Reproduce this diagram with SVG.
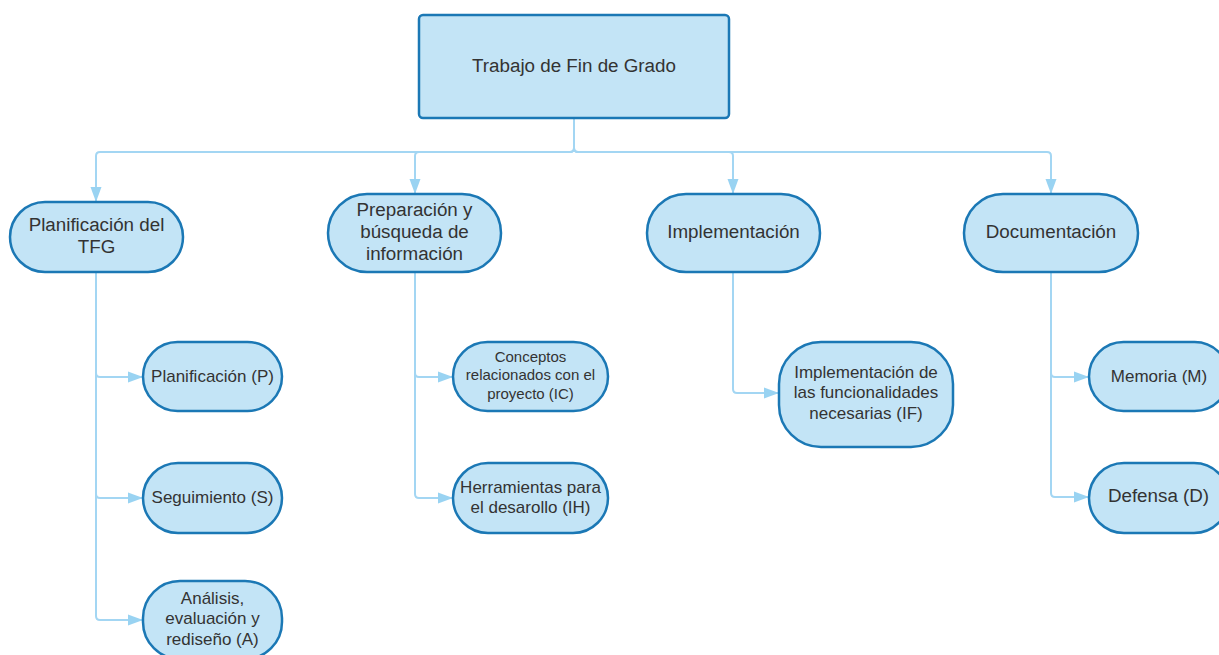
<svg xmlns="http://www.w3.org/2000/svg" width="1219" height="655" viewBox="0 0 1219 655">
<defs>
<marker id="arr" markerUnits="userSpaceOnUse" markerWidth="16" markerHeight="12" refX="15" refY="6" orient="auto">
<path d="M0,0.5 L15,6 L0,11.5 Z" fill="#99d3f2"/>
</marker>
<style>
.node{fill:#c3e4f6;stroke:#1b78b5;stroke-width:2.5}
.conn{fill:none;stroke:#a3d6f3;stroke-width:2;marker-end:url(#arr)}
text{font-family:"Liberation Sans",Arial,sans-serif;fill:#333333;text-anchor:middle;dominant-baseline:central}
.t1{font-size:18.8px}
.t2{font-size:17px}
.t3{font-size:15px}
</style>
</defs>
<rect width="1219" height="655" fill="#ffffff"/>
<g id="connectors">
<path class="conn" d="M574 118 V148 Q574 152 570 152 H100 Q96 152 96 156 V202"/>
<path class="conn" d="M574 118 V148 Q574 152 570 152 H419 Q415 152 415 156 V194"/>
<path class="conn" d="M574 118 V148 Q574 152 578 152 H729 Q733 152 733 156 V194"/>
<path class="conn" d="M574 118 V148 Q574 152 578 152 H1047 Q1051 152 1051 156 V194"/>
<path class="conn" d="M96 272 V373 Q96 377 100 377 H143"/>
<path class="conn" d="M96 272 V494 Q96 498 100 498 H143"/>
<path class="conn" d="M96 272 V616 Q96 620 100 620 H143"/>
<path class="conn" d="M415 272 V373 Q415 377 419 377 H453"/>
<path class="conn" d="M415 272 V494 Q415 498 419 498 H453"/>
<path class="conn" d="M733 272 V389 Q733 393 737 393 H779"/>
<path class="conn" d="M1051 272 V373 Q1051 377 1055 377 H1089"/>
<path class="conn" d="M1051 272 V493 Q1051 497 1055 497 H1089"/>
</g>
<g id="root">
<rect class="node" x="419" y="15" width="310" height="103" rx="4"/>
<text class="t1" x="574" y="65">Trabajo de Fin de Grado</text>
</g>
<g id="planificacion-tfg">
<rect class="node" x="10" y="202" width="173" height="70" rx="35"/>
<text class="t1" x="96.5" y="224">Planificación del</text>
<text class="t1" x="96.5" y="246">TFG</text>
</g>
<g id="preparacion">
<rect class="node" x="328" y="194" width="173" height="78" rx="39"/>
<text class="t1" x="414.5" y="209">Preparación y</text>
<text class="t1" x="414.5" y="231">búsqueda de</text>
<text class="t1" x="414.5" y="253">información</text>
</g>
<g id="implementacion">
<rect class="node" x="647" y="194" width="173" height="78" rx="39"/>
<text class="t1" x="733.5" y="231">Implementación</text>
</g>
<g id="documentacion">
<rect class="node" x="964" y="194" width="174" height="78" rx="39"/>
<text class="t1" x="1051" y="231">Documentación</text>
</g>
<g id="planificacion-p">
<rect class="node" x="143" y="342" width="139" height="69" rx="34.5"/>
<text class="t2" x="212.5" y="376">Planificación (P)</text>
</g>
<g id="seguimiento">
<rect class="node" x="143" y="463" width="139" height="70" rx="35"/>
<text class="t2" x="212.5" y="497">Seguimiento (S)</text>
</g>
<g id="analisis">
<rect class="node" x="143" y="581" width="139" height="78" rx="37"/>
<text class="t2" x="212.5" y="598">Análisis,</text>
<text class="t2" x="212.5" y="618.5">evaluación y</text>
<text class="t2" x="212.5" y="639">rediseño (A)</text>
</g>
<g id="conceptos">
<rect class="node" x="453" y="342" width="155" height="69" rx="34.5"/>
<text class="t3" x="530.5" y="356">Conceptos</text>
<text class="t3" x="530.5" y="374.5">relacionados con el</text>
<text class="t3" x="530.5" y="393">proyecto (IC)</text>
</g>
<g id="herramientas">
<rect class="node" x="453" y="463" width="155" height="70" rx="35"/>
<text class="t2" x="530.5" y="487">Herramientas para</text>
<text class="t2" x="530.5" y="507">el desarollo (IH)</text>
</g>
<g id="implementacion-if">
<rect class="node" x="779" y="342" width="174" height="105" rx="42"/>
<text class="t2" x="866" y="372">Implementación de</text>
<text class="t2" x="866" y="392.5">las funcionalidades</text>
<text class="t2" x="866" y="413">necesarias (IF)</text>
</g>
<g id="memoria">
<rect class="node" x="1089" y="342" width="140" height="69" rx="34.5"/>
<text class="t2" x="1159" y="376">Memoria (M)</text>
</g>
<g id="defensa">
<rect class="node" x="1089" y="463" width="140" height="70" rx="35"/>
<text class="t1" x="1158.5" y="495">Defensa (D)</text>
</g>
</svg>
